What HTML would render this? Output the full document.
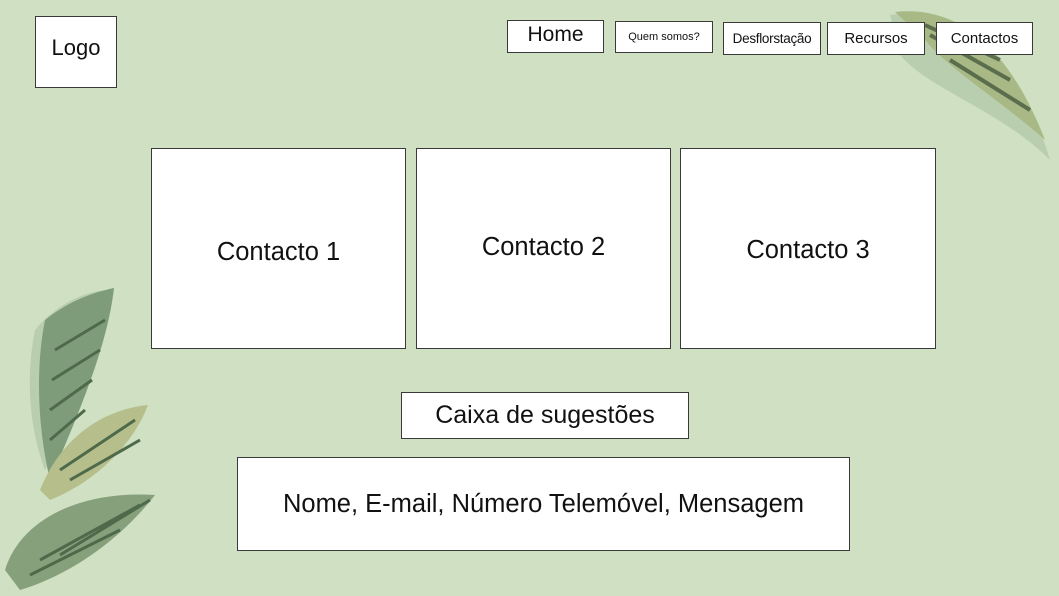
<!DOCTYPE html>
<html><head><meta charset="utf-8"><style>
body{margin:0;width:1059px;height:596px;background:#cfe0c3;position:relative;overflow:hidden;font-family:"Liberation Sans",sans-serif;}
.b{position:absolute;background:#fff;border:1px solid #3a3a3a;box-sizing:border-box;display:flex;align-items:center;justify-content:center;color:#111;white-space:nowrap;}
svg{position:absolute;left:0;top:0}
</style></head><body>
<svg width="1059" height="596">
<path d="M890,15 C960,5 1020,60 1050,160 C1000,110 930,90 900,55 Z" fill="#b9ceaf"/>
<path d="M895,12 C960,5 1010,50 1045,140 C1000,100 950,70 925,40 Z" fill="#a9b985"/>
<path d="M930,35 L1010,80 M925,25 L1000,60 M950,60 L1030,110" stroke="#5a6e4e" stroke-width="4"/>
<path d="M35,330 C60,300 90,290 112,290 C110,340 80,400 45,470 C30,430 25,380 35,330 Z" fill="#b9ceaf"/>
<path d="M45,320 C70,300 95,292 114,288 C108,340 85,400 50,480 C38,430 35,370 45,320 Z" fill="#7f9c7a"/>
<path d="M40,490 C60,440 100,410 148,405 C135,440 100,480 50,500 Z" fill="#b6bf8c"/>
<path d="M5,570 C20,520 80,490 155,495 C120,540 70,575 20,590 Z" fill="#87a07c"/>
<g stroke="#4e6a4a" stroke-width="3">
<path d="M55,350 L105,320 M52,380 L100,350 M50,410 L92,380 M50,440 L85,410"/>
<path d="M60,470 L135,420 M70,480 L140,440"/>
<path d="M40,560 L140,505 M30,575 L120,530 M60,555 L150,500"/>
</g>
</svg>
<div class="b" style="left:35px;top:16px;width:82px;height:72px;font-size:22px;padding-bottom:8px">Logo</div>
<div class="b" style="left:507px;top:20px;width:97px;height:33px;font-size:21px;align-items:flex-start;padding-top:2px">Home</div>
<div class="b" style="left:615px;top:21px;width:98px;height:32px;font-size:11px">Quem somos?</div>
<div class="b" style="left:723px;top:22px;width:98px;height:33px;font-size:13.5px;letter-spacing:-0.3px">Desflorstação</div>
<div class="b" style="left:827px;top:22px;width:98px;height:33px;font-size:15px">Recursos</div>
<div class="b" style="left:936px;top:22px;width:97px;height:33px;font-size:15px">Contactos</div>
<div class="b" style="left:151px;top:148px;width:255px;height:201px;font-size:25.5px;padding-top:8px">Contacto 1</div>
<div class="b" style="left:416px;top:148px;width:255px;height:201px;font-size:25.5px;padding-bottom:2px">Contacto 2</div>
<div class="b" style="left:680px;top:148px;width:256px;height:201px;font-size:25.5px;padding-top:4px">Contacto 3</div>
<div class="b" style="left:401px;top:392px;width:288px;height:47px;font-size:25px">Caixa de sugestões</div>
<div class="b" style="left:237px;top:457px;width:613px;height:94px;font-size:25.5px">Nome, E-mail, Número Telemóvel, Mensagem</div>
</body></html>
